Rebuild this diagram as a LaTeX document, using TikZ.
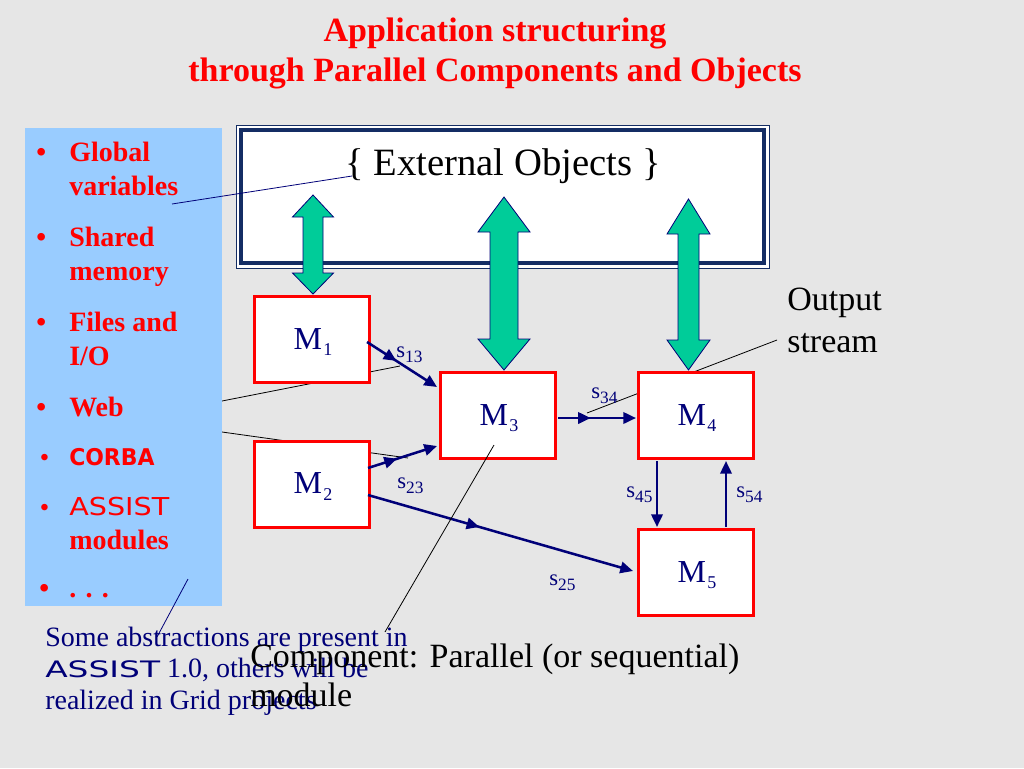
\documentclass[tikz,border=0pt]{standalone}
\usepackage{fontspec}
\usepackage{graphicx}
\setmainfont{Liberation Serif}
\newfontfamily\dejavu{DejaVu Sans}
\usetikzlibrary{arrows.meta,decorations.markings,calc}
\definecolor{bgc}{RGB}{230,230,230}
\definecolor{skyb}{RGB}{153,204,255}
\definecolor{navyc}{RGB}{0,0,120}
\definecolor{framec}{RGB}{20,45,100}
\definecolor{mint}{RGB}{0,204,153}
\newcommand\Mlab[1]{{\fontsize{24}{24}\selectfont M}\kern1pt\raisebox{-5pt}{\fontsize{13.5}{13.5}\selectfont #1}}
\newcommand\slab[1]{{\fontsize{17}{17}\selectfont s}\raisebox{-4pt}{\fontsize{13}{13}\selectfont #1}}
\newcommand\garrowshape[7]{%
  \draw[garrow] (#1,#2) -- ({#1+#7},#3) -- ({#1+#6},#3) -- ({#1+#6},#4) -- ({#1+#7},#4) -- (#1,#5)
     -- ({#1-#7},#4) -- ({#1-#6},#4) -- ({#1-#6},#3) -- ({#1-#7},#3) -- cycle;}
\begin{document}
\begin{tikzpicture}[x=0.75pt,y=-0.75pt,
  title/.style={anchor=base, text=red, font=\fontsize{25.5}{25.5}\selectfont\bfseries, inner sep=0pt},
  item/.style={anchor=base west, text=red, font=\fontsize{21}{21}\selectfont\bfseries, inner sep=0pt},
  bul/.style={anchor=base west, text=red, font=\fontsize{21}{21}\selectfont\bfseries, inner sep=0pt},
  smallbul/.style={anchor=base west, text=red, font=\fontsize{18}{18}\selectfont\bfseries, inner sep=0pt},
  note/.style={anchor=base west, text=navyc, font=\fontsize{21}{21}\selectfont, inner sep=0pt},
  big/.style={anchor=base west, text=black, font=\fontsize{25.5}{25.5}\selectfont, inner sep=0pt},
  mbox/.style={draw=red, line width=2.25pt, fill=white, minimum width=86.25pt, minimum height=64.5pt, inner sep=0pt},
  mlabel/.style={anchor=base, text=navyc, inner sep=0pt},
  slabel/.style={anchor=base west, text=navyc, inner sep=0pt},
  garrow/.style={fill=mint, draw=navyc, line width=0.6pt, line join=miter},
  conn/.style={draw=navyc, line width=1.9pt, -{Triangle[length=9.5pt,width=8.5pt]}},
  midarr/.style={postaction={decorate}, decoration={markings, mark=at position 0.42 with {\arrow{Triangle[length=9.5pt,width=8.5pt]}}}},
  callout/.style={draw=black, line width=0.6pt},
  ncallout/.style={draw=navyc, line width=0.6pt}
]
\useasboundingbox (0,0) rectangle (1024,768);
\fill[bgc] (0,0) rectangle (1024,768);

% title
\node[title] (t1) at (495,41) {Application structuring};
\node[title] (t2) at (495,81) {through Parallel Components and Objects};

% callouts behind the boxes
\coordinate (w1) at (222,401);  \coordinate (w1e) at (400,366);
\coordinate (w2) at (222,432);  \coordinate (w2e) at (408,458);
\coordinate (os) at (777,340);  \coordinate (ose) at (587,413);
\draw[callout] (w1) -- (w1e);
\draw[callout] (w2) -- (w2e);
\draw[callout] (os) -- (ose);

% blue list box
\fill[skyb] (25,128) rectangle (222,606);

% external objects box
\draw[framec, line width=0.75pt, fill=white] (236,125) rectangle (769,268);
\node[draw=framec, line width=3pt, minimum width=392.25pt, minimum height=99.75pt, inner sep=0pt] (ext) at (502.5,196.5) {};
\node[anchor=base, inner sep=0pt, font=\fontsize{29}{29}\selectfont] (extlbl) at (503,175) {\{ External Objects \}};

% green arrows
\garrowshape{313}{195}{217}{273}{294}{10}{20.5}
\garrowshape{504}{197}{232}{339}{370}{14}{26}
\garrowshape{688.5}{199}{234}{340}{370}{10.5}{21.5}

% modules
\node[mbox] (M1) at (312,339.5) {};
\node[mbox] (M2) at (312,484) {};
\node[mbox] (M3) at (498,415.5) {};
\node[mbox] (M4) at (696,415.5) {};
\node[mbox] (M5) at (696,572.5) {};
\node[mlabel] (l1) at (313,349) {\Mlab{1}};
\node[mlabel] (l2) at (313,493.5) {\Mlab{2}};
\node[mlabel] (l3) at (499,425) {\Mlab{3}};
\node[mlabel] (l4) at (697,425) {\Mlab{4}};
\node[mlabel] (l5) at (697,582) {\Mlab{5}};

% streams
\draw[conn, midarr] ($(M1.center)+(55,2.5)$) -- ($(M3.center)+(-61,-28.5)$);
\draw[conn, midarr] ($(M2.center)+(56,-16)$) -- ($(M3.center)+(-61,30.5)$);
\draw[conn, midarr] ($(M2.center)+(56,11)$) -- ($(M5.center)+(-63,-1.5)$);
\draw[conn, midarr] ($(M3.center)+(60,2.5)$) -- ($(M4.center)+(-60,2.5)$);
\draw[conn] ($(M4.center)+(-39,45.5)$) -- ($(M5.center)+(-39,-45.5)$);
\draw[conn] ($(M5.center)+(30,-45.5)$) -- ($(M4.center)+(30,45.5)$);
\node[slabel] (s13) at (396,357) {\slab{13}};
\node[slabel] (s23) at (397,488) {\slab{23}};
\node[slabel] (s25) at (549,585) {\slab{25}};
\node[slabel] (s34) at (591,398) {\slab{34}};
\node[slabel] (s45) at (626,497) {\slab{45}};
\node[slabel] (s54) at (736,497) {\slab{54}};

% list
\node[bul] (b1) at (36,161) {•};
\node[item] (g1) at (69,161) {Global};
\node[item] (g2) at (69,195) {variables};
\node[bul] (b2) at (36,246) {•};
\node[item] (h1) at (69,246) {Shared};
\node[item] (h2) at (69,280) {memory};
\node[bul] (b3) at (36,331) {•};
\node[item] (f1) at (69,331) {Files and};
\node[item] (f2) at (69,365) {I/O};
\node[bul] (b4) at (36,416) {•};
\node[item] (wb) at (69,416) {Web};
\node[smallbul] (b5) at (40,465) {•};
\node[item] (cb) at (69,465) {\scalebox{0.95}[1]{\dejavu\bfseries\fontsize{17.3}{17.3}\selectfont CORBA}};
\node[smallbul] (b6) at (40,515) {•};
\node[item] (a1) at (69,515) {\scalebox{1.16}[1]{\dejavu\mdseries\fontsize{18.5}{18.5}\selectfont ASSIST}};
\node[item] (a2) at (69,549) {modules};
\node[bul] (b7) at (39,597) {•};
\node[item] (dd) at (69,597) {. . .};

% callouts on top
\coordinate (gv) at (172,204);  \coordinate (gve) at (352,176);
\draw[ncallout] (gv) -- (gve);
\coordinate (ab) at (157,637);  \coordinate (abe) at (188,579);
\draw[ncallout] (ab) -- (abe);
\coordinate (cp) at (385,632);  \coordinate (cpe) at (494,445);
\draw[callout] (cp) -- (cpe);

% notes
\node[note] (n1) at (45,646) {Some abstractions are present in};
\node[note] (n2) at (45,677) {\scalebox{1.45}[1]{\dejavu\fontsize{17}{17}\selectfont ASSIST} 1.0, others will be};
\node[note] (n3) at (45,709) {realized in Grid projects};
\node[big] (c1) at (250,667) {Component: Parallel (or sequential)};
\node[big] (c2) at (250,706) {module};
\node[big] (o1) at (787,310) {Output};
\node[big] (o2) at (787,352) {stream};
\end{tikzpicture}
\end{document}
